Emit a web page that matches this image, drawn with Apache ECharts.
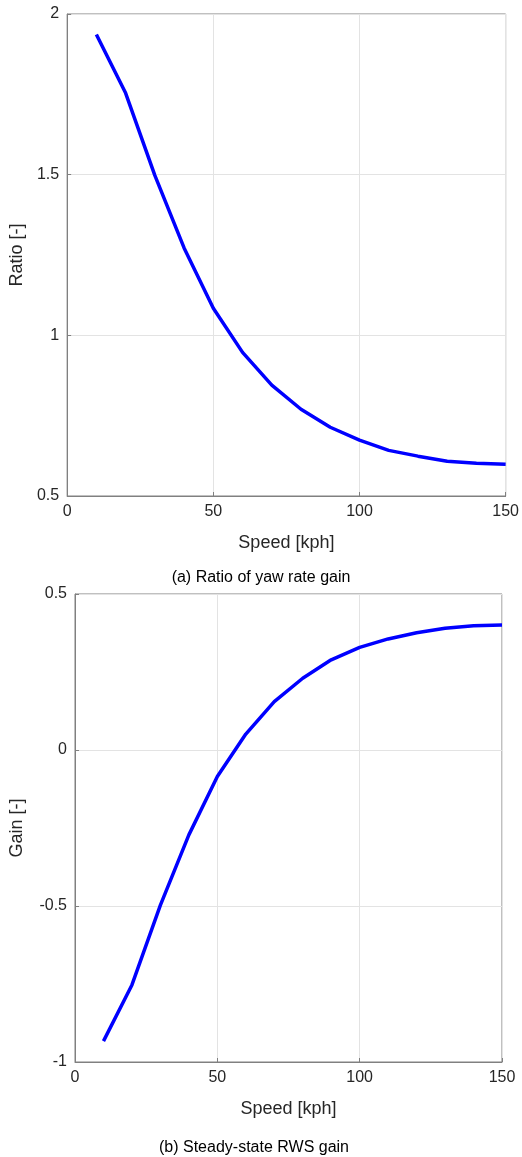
<!DOCTYPE html>
<html>
<head>
<meta charset="utf-8">
<script src="https://cdn.jsdelivr.net/npm/echarts@6/dist/echarts.min.js"></script>
<style>
  html, body { margin: 0; padding: 0; background: #fff; }
  #chart { width: 522px; height: 1157px; }
</style>
</head>
<body>
<div id="chart"></div>
<script>
// Vehicle speed samples [kph]
const speeds = [10, 20, 30, 40, 50, 60, 70, 80, 90, 100, 110, 120, 130, 140, 150];
// (a) ratio of yaw rate gain
const ratioValues = [1.936, 1.754, 1.498, 1.272, 1.084, 0.947, 0.845, 0.770, 0.714, 0.674, 0.642, 0.624, 0.608, 0.602, 0.599];
// (b) steady-state rear-wheel-steer gain
const gainValues = [-0.933, -0.753, -0.497, -0.272, -0.085, 0.051, 0.155, 0.230, 0.289, 0.329, 0.356, 0.376, 0.390, 0.398, 0.401];

const captionA = '(a) Ratio of yaw rate gain';
const captionB = '(b) Steady-state RWS gain';

const FONT = '"Liberation Sans", Arial, Helvetica, sans-serif';
const AXIS_GRAY = '#808080';
const TEXT = '#262626';

function xAxisCfg(gridIndex) {
  return {
    type: 'value', gridIndex, min: 0, max: 150, interval: 50,
    name: 'Speed [kph]', nameLocation: 'middle', nameGap: 38,
    nameTextStyle: { fontFamily: FONT, fontSize: 18, color: TEXT },
    axisLine: { show: true, onZero: false, lineStyle: { color: AXIS_GRAY, width: 1 } },
    axisTick: { show: true, inside: true, length: 4, lineStyle: { color: AXIS_GRAY } },
    axisLabel: { fontFamily: FONT, fontSize: 16, color: TEXT, margin: 8 },
    splitLine: { show: true, lineStyle: { color: '#e3e3e3', width: 1 } }
  };
}
function yAxisCfg(gridIndex, name, min, max, gap) {
  return {
    type: 'value', gridIndex, min, max, interval: 0.5,
    name, nameLocation: 'middle', nameGap: gap, nameRotate: 90,
    nameTextStyle: { fontFamily: FONT, fontSize: 18, color: TEXT },
    axisLine: { show: true, onZero: false, lineStyle: { color: AXIS_GRAY, width: 1 } },
    axisTick: { show: true, inside: true, length: 4, lineStyle: { color: AXIS_GRAY } },
    axisLabel: { fontFamily: FONT, fontSize: 16, color: TEXT, margin: 8 },
    splitLine: { show: true, lineStyle: { color: '#e3e3e3', width: 1 } }
  };
}

const chart = echarts.init(document.getElementById('chart'), null, { renderer: 'canvas' });
chart.setOption({
  animation: false,
  backgroundColor: '#ffffff',
  grid: [
    { left: 66, top: 14, width: 441, height: 482, show: true, borderColor: AXIS_GRAY, borderWidth: 1 },
    { left: 74, top: 594, width: 428, height: 468, show: true, borderColor: AXIS_GRAY, borderWidth: 1 }
  ],
  xAxis: [xAxisCfg(0), xAxisCfg(1)],
  yAxis: [
    yAxisCfg(0, 'Ratio [-]', 0.5, 2, 41),
    yAxisCfg(1, 'Gain [-]', -1, 0.5, 49)
  ],
  series: [
    {
      type: 'line', xAxisIndex: 0, yAxisIndex: 0,
      data: speeds.map((s, i) => [s, ratioValues[i]]),
      showSymbol: false, symbol: 'none',
      lineStyle: { color: '#0000ff', width: 3.5 }
    },
    {
      type: 'line', xAxisIndex: 1, yAxisIndex: 1,
      data: speeds.map((s, i) => [s, gainValues[i]]),
      showSymbol: false, symbol: 'none',
      lineStyle: { color: '#0000ff', width: 3.5 }
    }
  ],
  graphic: [
    { type: 'text', x: 261, y: 578,
      style: { text: captionA, font: '16px ' + FONT, fill: '#000', textAlign: 'center', textVerticalAlign: 'middle' } },
    { type: 'text', x: 254, y: 1148,
      style: { text: captionB, font: '16px ' + FONT, fill: '#000', textAlign: 'center', textVerticalAlign: 'middle' } }
  ]
});
</script>
</body>
</html>
